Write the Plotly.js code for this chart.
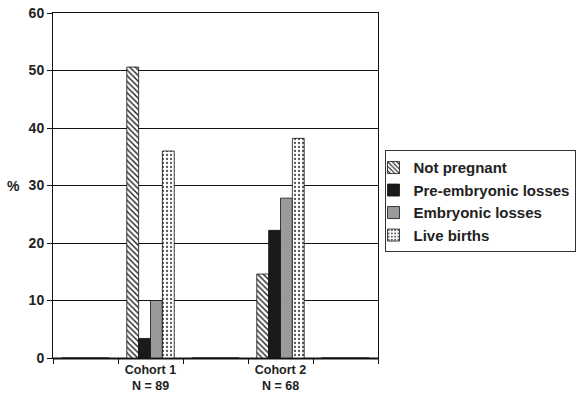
<!DOCTYPE html>
<html>
<head>
<meta charset="utf-8">
<script src="https://cdn.plot.ly/plotly-3.0.1.min.js"></script>
<style>html,body{margin:0;padding:0;background:#fff;}#chart{width:576px;height:393px;}</style>
</head>
<body>
<div id="chart"></div>
<script>
// categories (empty slots reproduce the spacing of the original chart)
var categories = ["c0", "c1", "c2", "c3", "c4"];
var tickLabels = ["", "Cohort 1<br>N = 89", "", "Cohort 2<br>N = 68", ""];
var seriesNames = ["Not pregnant", "Pre-embryonic losses", "Embryonic losses", "Live births"];
var notPregnant = [0, 50.6, 0, 14.6, 0];
var preEmbryonic = [0, 3.4, 0, 22.2, 0];
var embryonic = [0, 10.0, 0, 27.8, 0];
var liveBirths = [0, 36.0, 0, 38.2, 0];
var yTicks = [0, 10, 20, 30, 40, 50, 60];

function b(s) { return s === "" ? "" : "<b>" + s + "</b>"; }

var outline = {color: "#111", width: 0.8};
var traces = [
  {type: "bar", name: b(seriesNames[0]), legendgroup: "g0", x: categories, y: notPregnant,
   marker: {color: "#fff", line: outline, pattern: {shape: "\\", fgcolor: "#222", bgcolor: "#fff", size: 4, solidity: 0.35}}},
  {type: "bar", name: b(seriesNames[1]), legendgroup: "g1", x: categories, y: preEmbryonic,
   marker: {color: "#1a1a1a", line: outline}},
  {type: "bar", name: b(seriesNames[2]), legendgroup: "g2", x: categories, y: embryonic,
   marker: {color: "#9a9a9a", line: outline}},
  {type: "bar", name: b(seriesNames[3]), legendgroup: "g3", x: categories, y: liveBirths,
   marker: {color: "#fff", line: outline, pattern: {shape: ".", fgcolor: "#555", bgcolor: "#fff", size: 4, solidity: 0.25}}}
];

var layout = {
  width: 576, height: 393,
  margin: {l: 53, r: 198, t: 13, b: 35, autoexpand: false},
  paper_bgcolor: "#fff", plot_bgcolor: "#fff",
  font: {family: "Arial, 'Liberation Sans', sans-serif", color: "#222", size: 13},
  barmode: "group", bargap: 0.27, bargroupgap: 0,
  showlegend: true,
  legend: {x: 1.02, xanchor: "left", y: 0.602, yanchor: "top", indentation: -12,
           bordercolor: "#333", borderwidth: 1, bgcolor: "#fff", tracegroupgap: 0,
           font: {size: 15, color: "#222"}, itemwidth: 30, traceorder: "grouped"},
  xaxis: {type: "category", tickvals: categories, ticktext: tickLabels.map(b),
          tickson: "boundaries", ticks: "outside", ticklen: 5, tickcolor: "#111", tickangle: 0,
          showline: true, linecolor: "#111", linewidth: 1, mirror: true,
          showgrid: false, zeroline: false, fixedrange: true,
          tickfont: {size: 12.5, color: "#222"}},
  yaxis: {range: [0, 60], tickvals: yTicks, ticktext: yTicks.map(function(v){return "<b>" + v + "</b>";}),
          ticks: "outside", ticklen: 5, tickcolor: "#111",
          showline: true, linecolor: "#111", linewidth: 1, mirror: true,
          showgrid: true, gridcolor: "#111", gridwidth: 1,
          zeroline: true, zerolinecolor: "#888", zerolinewidth: 3,
          tickfont: {size: 14, color: "#222"}},
  annotations: [{text: "<b>%</b>", xref: "paper", yref: "y", x: -0.095, y: 30, xanchor: "right",
                 showarrow: false, font: {size: 14, color: "#222"}}]
};

Plotly.newPlot("chart", traces, layout, {displayModeBar: false, staticPlot: true});
</script>
</body>
</html>
